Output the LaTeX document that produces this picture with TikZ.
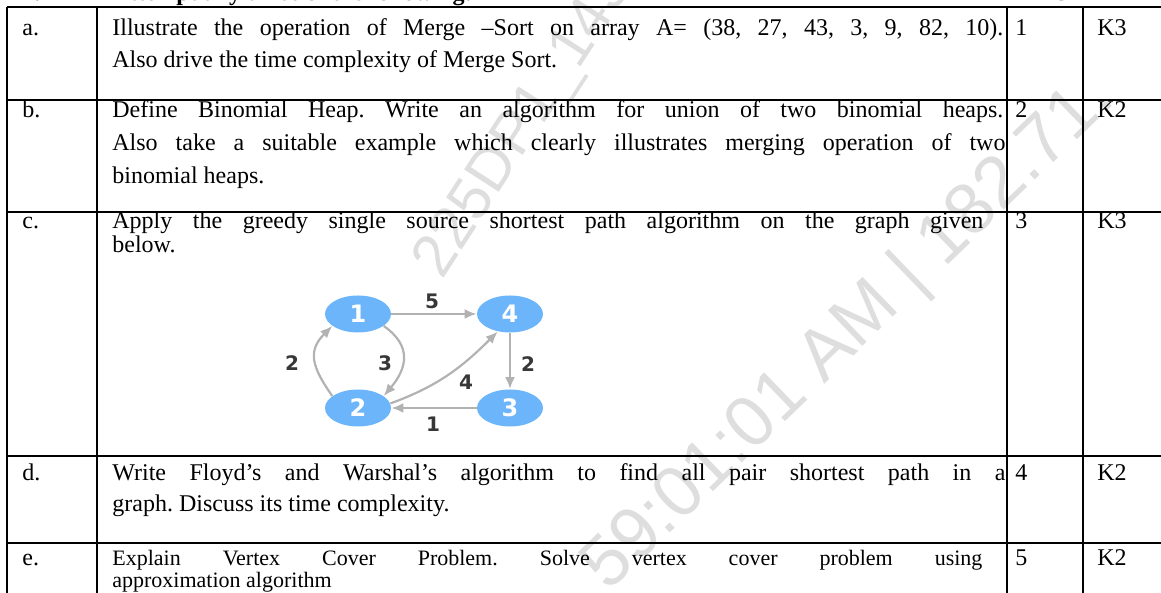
\documentclass[tikz,border=0pt]{standalone}
\usepackage{fontspec}
\setmainfont{Liberation Serif}
\newfontfamily\graphfont{DejaVu Sans}
\newfontfamily\wmfont{Liberation Sans}
\usetikzlibrary{arrows.meta, shapes.geometric}

\definecolor{nodeblue}{RGB}{108,181,250}
\definecolor{edgegray}{RGB}{178,178,178}
\definecolor{weightgray}{RGB}{55,55,55}
\definecolor{wmgray}{RGB}{222,222,222}

\frenchspacing
\newcommand{\fillline}[2]{\makebox[#1][s]{#2}}

\tikzset{
  cell/.style={anchor=base west, inner sep=0pt, font=\fontsize{12}{14}\selectfont},
  smallcell/.style={cell, font=\fontsize{11}{13}\selectfont},
  headcell/.style={cell, font=\fontsize{12}{14}\selectfont\bfseries},
  vertex/.style={ellipse, fill=nodeblue, minimum width=33pt, minimum height=18.5pt, inner sep=0pt,
    text=white, font=\graphfont\bfseries\fontsize{12}{12}\selectfont},
  wedge/.style={draw=edgegray, line width=1.1pt, -{Latex[length=6pt,width=5pt]}},
  weight/.style={inner sep=0pt, text=weightgray, font=\graphfont\bfseries\fontsize{10}{10}\selectfont},
  wmtext/.style={inner sep=0pt, text=wmgray, font=\wmfont\fontsize{30}{30}\selectfont}
}

\begin{document}
\begin{tikzpicture}[x=0.5pt, y=0.5pt]
  \useasboundingbox (0,0) rectangle (1161,593);
  \clip (0,0) rectangle (1161,593);

  % watermark
  \node [wmtext, rotate=57] (wm1) at (525,468) {225DP1\_143};
  \node [wmtext, rotate=44, anchor=base west, font=\wmfont\fontsize{36}{36}\selectfont]
    (wm2) at (608,0) {59:01:01 AM | 182.71.};

  % header, cut at the top
  \node [headcell] (hq) at (22,592) {2.};
  \node [headcell] (ht) at (112,592) {Attempt any three of the following:};
  \node [headcell] (hm) at (1020,592) {7 x 3 = 21};

  % grid
  \begin{scope}[line width=1pt]
    \draw (7,585.5) -- (1161,585.5);
    \foreach \y in {493,381,137,50}
      \draw (7,\y) -- (1161,\y);
    \foreach \x in {7,97,1007,1083}
      \draw (\x,585.5) -- (\x,-5);
  \end{scope}

  % row a
  \node [cell] (qa) at (22,557) {a.};
  \node [cell] (ta1) at (112,557) {\fillline{445.5pt}{Illustrate the operation of Merge --Sort on array A= (38, 27, 43, 3, 9, 82, 10).}};
  \node [cell] (ta2) at (112,525) {Also drive the time complexity of Merge Sort.};
  \node [cell] (ca) at (1015,557) {1};
  \node [cell] (ka) at (1097,557) {K3};

  % row b
  \node [cell] (qb) at (22,475) {b.};
  \node [cell] (tb1) at (112,475) {\fillline{445.5pt}{Define Binomial Heap. Write an algorithm for union of two binomial heaps.}};
  \node [cell] (tb2) at (112,442) {\fillline{446.5pt}{Also take a suitable example which clearly illustrates merging operation of two}};
  \node [cell] (tb3) at (112,409) {binomial heaps.};
  \node [cell] (cb) at (1015,475) {2};
  \node [cell] (kb) at (1097,475) {K2};

  % row c
  \node [cell] (qc) at (22,364) {c.};
  \node [cell] (tc1) at (112,364) {\fillline{435.5pt}{Apply the greedy single source shortest path algorithm on the graph given}};
  \node [cell] (tc2) at (112,340) {below.};
  \node [cell] (cc) at (1015,364) {3};
  \node [cell] (kc) at (1097,364) {K3};

  % graph of row c
  \node [vertex] (v1) at (358,279) {1};
  \node [vertex] (v4) at (510,279) {4};
  \node [vertex] (v2) at (358,185) {2};
  \node [vertex] (v3) at (510,185) {3};
  \draw [wedge] (v1) -- (v4);
  \draw [wedge] (v4) -- (v3);
  \draw [wedge] (v3) -- (v2);
  \draw [wedge] (v1.-25) to [out=-35, in=50, looseness=1.3] (v2.25);
  \draw [wedge] (v2.155) to [out=125, in=-135, looseness=1.3] (v1.205);
  \draw [wedge] (v2.8) to [out=20, in=-135] (v4.235);
  \node [weight] (w14) at (432,292) {5};
  \node [weight] (w43) at (528,229) {2};
  \node [weight] (w32) at (433,169) {1};
  \node [weight] (w12) at (385,230) {3};
  \node [weight] (w21) at (292,230) {2};
  \node [weight] (w24) at (466,211) {4};

  % row d
  \node [cell] (qd) at (22,112) {d.};
  \node [cell] (td1) at (112,112) {\fillline{446.5pt}{Write Floyd's and Warshal's algorithm to find all pair shortest path in a}};
  \node [cell] (td2) at (112,81) {graph. Discuss its time complexity.};
  \node [cell] (cd) at (1015,112) {4};
  \node [cell] (kd) at (1097,112) {K2};

  % row e
  \node [cell] (qe) at (22,27) {e.};
  \node [smallcell] (te1) at (112,27) {\fillline{435pt}{Explain Vertex Cover Problem. Solve vertex cover problem using}};
  \node [smallcell] (te2) at (112,5) {approximation algorithm};
  \node [cell] (ce) at (1015,27) {5};
  \node [cell] (ke) at (1097,27) {K2};
\end{tikzpicture}
\end{document}
